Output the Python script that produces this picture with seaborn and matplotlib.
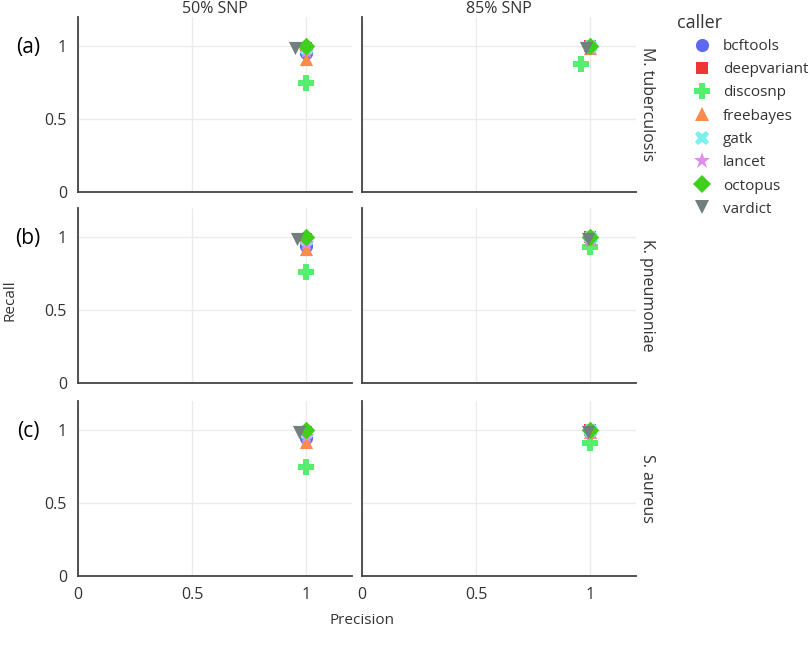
import numpy as np
import pandas as pd
import matplotlib
matplotlib.use("Agg")
import matplotlib.pyplot as plt
from matplotlib.lines import Line2D
import seaborn as sns

callers = ["bcftools", "deepvariant", "discosnp", "freebayes", "gatk", "lancet", "octopus", "vardict"]
species = ["M. tuberculosis", "K. pneumoniae", "S. aureus"]
snp_levels = ["50% SNP", "85% SNP"]
panel_tags = ["(a)", "(b)", "(c)"]

# precision / recall per caller for each panel (species, snp level)
prec_mtb_50 = [1.0, 1.0, 1.0, 1.0, 1.0, 1.0, 1.0, 0.95]
rec_mtb_50 = [0.95, 0.99, 0.75, 0.91, 0.99, 0.97, 1.0, 0.99]
prec_mtb_85 = [1.0, 1.0, 0.96, 1.0, 1.0, 1.0, 1.0, 0.98]
rec_mtb_85 = [1.0, 1.0, 0.88, 0.99, 1.0, 0.99, 1.0, 0.99]
prec_kp_50 = [1.0, 1.0, 1.0, 1.0, 1.0, 1.0, 1.0, 0.96]
rec_kp_50 = [0.94, 0.99, 0.76, 0.92, 0.99, 0.96, 1.0, 0.99]
prec_kp_85 = [1.0, 1.0, 1.0, 1.0, 1.0, 1.0, 1.0, 0.99]
rec_kp_85 = [0.99, 1.0, 0.93, 0.99, 1.0, 0.99, 1.0, 0.99]
prec_sa_50 = [1.0, 1.0, 1.0, 1.0, 1.0, 1.0, 1.0, 0.97]
rec_sa_50 = [0.945, 0.99, 0.745, 0.92, 0.99, 0.96, 1.0, 0.99]
prec_sa_85 = [1.0, 1.0, 1.0, 1.0, 1.0, 1.0, 1.0, 0.99]
rec_sa_85 = [0.99, 1.0, 0.91, 0.99, 1.0, 0.99, 1.0, 0.99]

panels = {
    ("M. tuberculosis", "50% SNP"): (prec_mtb_50, rec_mtb_50),
    ("M. tuberculosis", "85% SNP"): (prec_mtb_85, rec_mtb_85),
    ("K. pneumoniae", "50% SNP"): (prec_kp_50, rec_kp_50),
    ("K. pneumoniae", "85% SNP"): (prec_kp_85, rec_kp_85),
    ("S. aureus", "50% SNP"): (prec_sa_50, rec_sa_50),
    ("S. aureus", "85% SNP"): (prec_sa_85, rec_sa_85),
}

rows = []
for (sp, snp), (p, r) in panels.items():
    for c, pv, rv in zip(callers, p, r):
        rows.append({"species": sp, "snp": snp, "caller": c, "Precision": pv, "Recall": rv})
df = pd.DataFrame(rows)

palette = {
    "bcftools": "#5D6AF0", "deepvariant": "#F03535", "discosnp": "#55EE6F",
    "freebayes": "#F98B4E", "gatk": "#7CF0EC", "lancet": "#E08EEE",
    "octopus": "#3FCF1C", "vardict": "#717F7F",
}
markers = {
    "bcftools": "o", "deepvariant": "s", "discosnp": "P", "freebayes": "^",
    "gatk": "X", "lancet": "*", "octopus": "D", "vardict": "v",
}
sizes = {"bcftools": 90, "deepvariant": 75, "discosnp": 120, "freebayes": 90,
         "gatk": 105, "lancet": 150, "octopus": 80, "vardict": 90}

sns.set_style("white")
plt.rcParams["font.family"] = ["Open Sans", "DejaVu Sans"]
text_color = "#333333"

fig = plt.figure(figsize=(8.1, 6.53), dpi=100)
W, H = 810, 653
col_left = [78, 362]
ax_w = 274
row_top = [17, 208, 401]
ax_h = 175

for i, sp in enumerate(species):
    for j, snp in enumerate(snp_levels):
        ax = fig.add_axes([col_left[j] / W, 1 - (row_top[i] + ax_h) / H, ax_w / W, ax_h / H])
        sub = df[(df.species == sp) & (df.snp == snp)]
        for c in callers:
            s = sub[sub.caller == c]
            sns.scatterplot(data=s, x="Precision", y="Recall", color=palette[c],
                            marker=markers[c], s=sizes[c], linewidth=0,
                            ax=ax, legend=False, zorder=3)
        ax.set_xlim(0, 1.2)
        ax.set_ylim(0, 1.2)
        ax.set_xticks([0, 0.5, 1])
        ax.set_yticks([0, 0.5, 1])
        ax.set_xticklabels(["0", "0.5", "1"])
        ax.set_yticklabels(["0", "0.5", "1"])
        ax.grid(True, color="#ebebeb", linewidth=1)
        ax.set_axisbelow(True)
        for side in ["top", "right"]:
            ax.spines[side].set_visible(False)
        for side in ["left", "bottom"]:
            ax.spines[side].set_color("#444444")
            ax.spines[side].set_linewidth(1.3)
        ax.tick_params(axis="both", direction="out", length=5, width=1,
                       color="#444444", labelsize=11.5, labelcolor=text_color, pad=3)
        if i != 2:
            ax.tick_params(axis="x", labelbottom=False)
        if j != 0:
            ax.tick_params(axis="y", labelleft=False)
        ax.set_xlabel("")
        ax.set_ylabel("")
        if i == 0:
            ax.set_title(snp, fontsize=11.5, color=text_color, pad=2)
        if j == 1:
            ax.text(1.04, 0.5, sp, transform=ax.transAxes, rotation=270,
                    ha="center", va="center", fontsize=11.5, color=text_color)
        if j == 0:
            fig.text(28 / W, 1 - (row_top[i] + 31) / H, panel_tags[i],
                     fontsize=15, ha="center", va="center", color="black")

fig.text(10 / W, 1 - 300 / H, "Recall", rotation=90, ha="center", va="center",
         fontsize=11, color=text_color)
fig.text(362 / W, 1 - 620 / H, "Precision", ha="center", va="center",
         fontsize=11, color=text_color)

handles = [Line2D([0], [0], marker=markers[c], color=palette[c], linestyle="",
                  markersize=np.sqrt(sizes[c]), markeredgewidth=0) for c in callers]
leg = fig.legend(handles, callers, loc="upper left",
                 bbox_to_anchor=(686 / W, 1 - 39 / H), frameon=False,
                 fontsize=11, labelspacing=0.54, handlelength=2.1,
                 handletextpad=0.3, borderaxespad=0, borderpad=0)
for t in leg.get_texts():
    t.set_color(text_color)
fig.text(677 / W, 1 - 23 / H, "caller", ha="left", va="center",
         fontsize=13, color=text_color)

fig.savefig("out.png", dpi=100)
